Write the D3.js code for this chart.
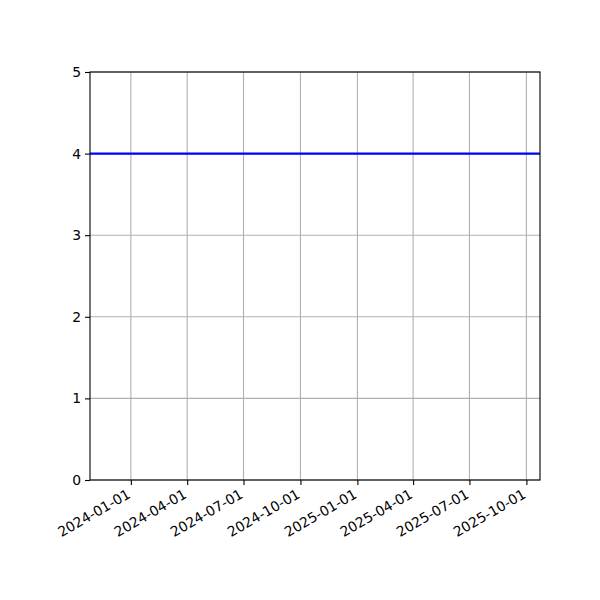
<!DOCTYPE html>
<html>
<head>
<meta charset="utf-8">
<script src="https://cdn.jsdelivr.net/npm/d3@7"></script>
<style>
  body { margin: 0; background: #fff; }
  text { font-family: "DejaVu Sans", sans-serif; }
</style>
</head>
<body>
<div id="chart"></div>
<script>
// data
const dates = ['2023-10-27', '2025-10-23'];
const values = [4, 4];
const xTicks = ['2024-01-01', '2024-04-01', '2024-07-01', '2024-10-01',
                '2025-01-01', '2025-04-01', '2025-07-01', '2025-10-01'];
const yTicks = [0, 1, 2, 3, 4, 5];

const parse = d3.timeParse('%Y-%m-%d');
const data = dates.map((d, i) => ({ date: parse(d), value: values[i] }));

// set the dimensions and margins of the graph
const margin = {top: 72, right: 60, bottom: 120, left: 90},
    width = 600 - margin.left - margin.right,
    height = 600 - margin.top - margin.bottom;

const svg = d3.select('#chart')
    .append('svg')
    .attr('width', 600)
    .attr('height', 600)
    .append('g')
    .attr('transform', `translate(${margin.left},${margin.top})`);

const x = d3.scaleTime()
    .domain(d3.extent(data, d => d.date))
    .range([0, width]);

const y = d3.scaleLinear()
    .domain([0, 5])
    .range([height, 0]);

// grid
svg.append('g')
    .selectAll('line')
    .data(xTicks.map(parse))
    .join('line')
    .attr('x1', d => x(d)).attr('x2', d => x(d))
    .attr('y1', 0).attr('y2', height)
    .attr('stroke', '#b0b0b0').attr('stroke-width', 1.1);

svg.append('g')
    .selectAll('line')
    .data(yTicks)
    .join('line')
    .attr('x1', 0).attr('x2', width)
    .attr('y1', d => y(d)).attr('y2', d => y(d))
    .attr('stroke', '#b0b0b0').attr('stroke-width', 1.1);

// the line
svg.append('path')
    .datum(data)
    .attr('fill', 'none')
    .attr('stroke', '#0000ff')
    .attr('stroke-width', 2.1)
    .attr('d', d3.line()
        .x(d => x(d.date))
        .y(d => y(d.value)));

// frame
svg.append('rect')
    .attr('width', width).attr('height', height)
    .attr('fill', 'none')
    .attr('stroke', '#000').attr('stroke-width', 1.1);

// X axis
const xAxis = svg.append('g')
    .attr('transform', `translate(0,${height})`)
    .call(d3.axisBottom(x)
        .tickValues(xTicks.map(parse))
        .tickFormat(d3.timeFormat('%Y-%m-%d'))
        .tickSize(5)
        .tickSizeOuter(0));
xAxis.select('.domain').remove();
xAxis.selectAll('line').attr('stroke', '#000').attr('stroke-width', 1.1);
xAxis.selectAll('text')
    .attr('font-size', 13.9)
    .attr('fill', '#000')
    .attr('text-anchor', 'end')
    .attr('dy', 0)
    .attr('transform', 'translate(0,17) rotate(-30)')
    .attr('y', 0).attr('x', 0);

// Y axis
const yAxis = svg.append('g')
    .call(d3.axisLeft(y)
        .tickValues(yTicks)
        .tickFormat(d3.format('d'))
        .tickSize(5)
        .tickSizeOuter(0));
yAxis.select('.domain').remove();
yAxis.selectAll('line').attr('stroke', '#000').attr('stroke-width', 1.1);
yAxis.selectAll('text')
    .attr('font-size', 13.9)
    .attr('fill', '#000')
    .attr('x', -9);
</script>
</body>
</html>
